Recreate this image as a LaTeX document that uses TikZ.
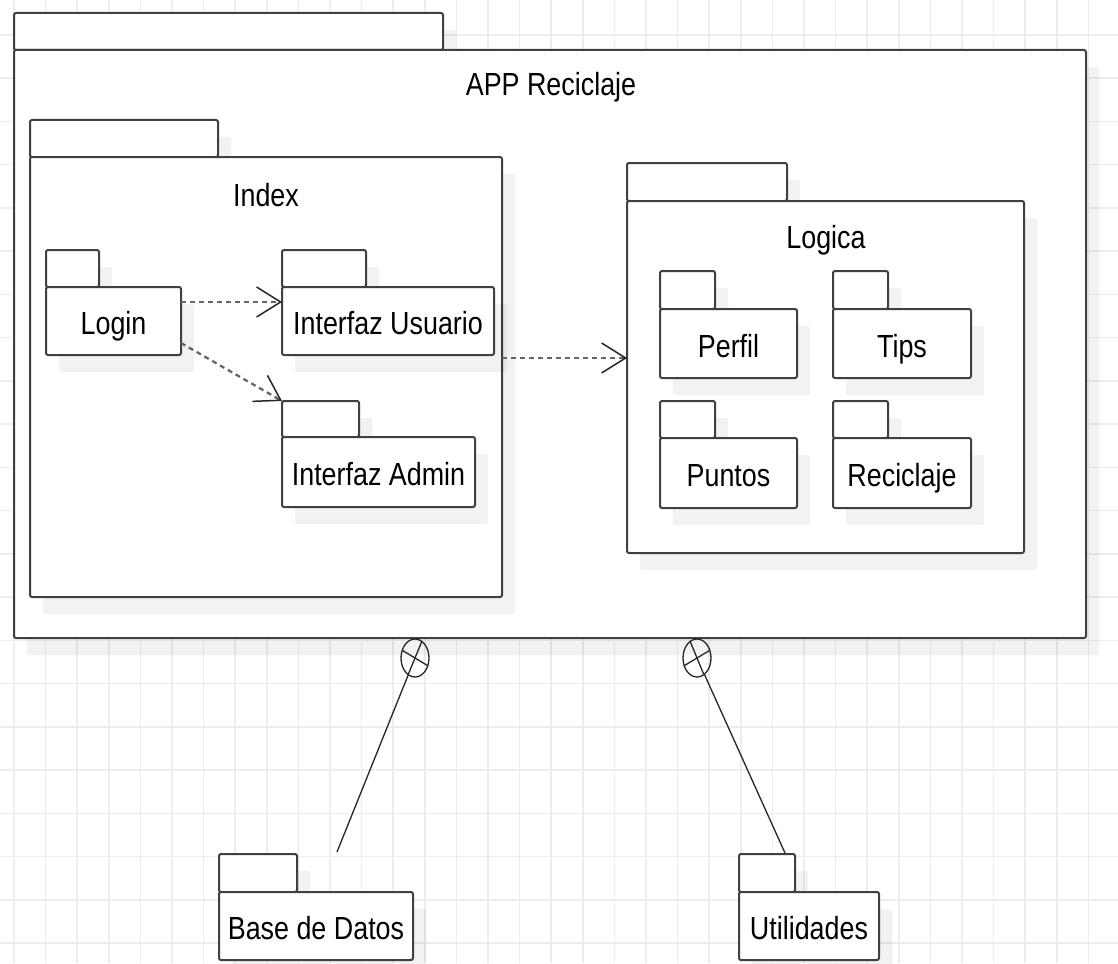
\documentclass[tikz,border=0pt]{standalone}
\usepackage{fontspec}
\usepackage{tikz}
\usetikzlibrary{arrows.meta,shapes.geometric,shadows,positioning}
\newfontfamily\pkgfont[FakeStretch=0.84]{Liberation Sans}
% one UML package: tab first, then body (so the shadows overlap right)
\newcommand{\pkg}[8]{%
  \node[pkgtab, minimum width=#6pt, minimum height=#7pt] (#1tab) at (#2,#3) {};
  \node[pkgbody, minimum width=#4pt, minimum height=#5pt] (#1) at (#2,#3) {#8};
}

\begin{document}
\begin{tikzpicture}[x=1pt,y=-1pt]
  \tikzset{
    gridline/.style={draw=black!7, line width=1.5pt},
    pkgshadow/.style={drop shadow={shadow xshift=13pt, shadow yshift=-17pt, fill=black, opacity=0.05}},
    pkgbox/.style={draw=black!75, line width=2pt, fill=white, rounded corners=2pt,
      inner sep=0pt, outer sep=0pt, pkgshadow},
    pkgtab/.style={pkgbox, anchor=south west},
    pkgbody/.style={pkgbox, anchor=north west, font=\pkgfont\fontsize{32}{36}\selectfont,
      text height=27pt, text depth=0pt},
    title/.style={font=\pkgfont\fontsize{32}{36}\selectfont, text height=27pt, text depth=0pt, inner sep=0pt},
    dep/.style={draw=black!60, line width=2.3pt, dash pattern=on 5pt off 4pt,
      -{Straight Barb[length=24pt, width=30pt, line width=1.5pt, color=black!85]}},
    joint/.style={ellipse, draw=black!85, line width=1.3pt, minimum width=28pt,
      minimum height=38pt, inner sep=0pt, outer sep=0pt},
    conn/.style={draw=black!85, line width=1.3pt}
  }
  \useasboundingbox (0,0) rectangle (1118,963);
  \fill[white] (0,0) rectangle (1118,963);

  % background grid
  \foreach \i in {0,...,35}
    \draw[gridline] ({14+31.6*\i},0) -- ({14+31.6*\i},963);
  \foreach \i in {0,...,21}
    \draw[gridline] (0,{35+43.24*\i}) -- (1118,{35+43.24*\i});

  % outer package
  \pkg{app}{14}{50}{1072}{588}{429}{37}{}
  \node[title] (apptitle) at (551,82) {APP Reciclaje};

  % Index
  \pkg{index}{30}{157}{472}{440}{188}{37}{}
  \node[title] (indextitle) at (266,193) {Index};
  \pkg{login}{46}{287}{135}{68}{53}{37}{Login}
  \pkg{iusr}{282}{287}{212}{68}{84}{37}{Interfaz Usuario}
  \pkg{iadm}{282}{437}{193}{70}{77}{36}{Interfaz Admin}

  % Logica
  \pkg{logica}{627}{201}{397}{352}{160}{38}{}
  \node[title] (logicatitle) at (826,235) {Logica};
  \pkg{perfil}{660}{309}{137}{69}{55}{38}{Perfil}
  \pkg{tips}{833}{309}{138}{69}{55}{38}{Tips}
  \pkg{puntos}{660}{438}{137}{70}{55}{37}{Puntos}
  \pkg{recic}{833}{438}{138}{70}{55}{37}{Reciclaje}

  % dependencies
  \draw[dep] ([yshift=19pt]login.east) -- ([yshift=19pt]login.east -| iusr.west);
  \draw[dep] ([yshift=-22pt]login.east) -- (iadmtab.north west);
  \draw[dep] ([yshift=19pt]index.east) -- ([yshift=19pt]index.east -| logica.west);

  % external packages
  \pkg{bd}{219}{892}{194}{68}{78}{38}{Base de Datos}
  \pkg{util}{739}{892}{140}{68}{56}{38}{Utilidades}

  % containment joints
  \node[joint] (j1) at (415,658) {};
  \node[joint] (j2) at (697,658) {};
  \draw[conn] ([shift={(7,-17)}]j1.center) -- ([shift={(-7,17)}]j1.center);
  \draw[conn] ([shift={(-12.5,-7.5)}]j1.center) -- ([shift={(12.5,7.5)}]j1.center);
  \draw[conn] ([shift={(-7,-17)}]j2.center) -- ([shift={(7,17)}]j2.center);
  \draw[conn] ([shift={(-12.5,7.5)}]j2.center) -- ([shift={(12.5,-7.5)}]j2.center);
  \coordinate (bdend) at (337,852);
  \coordinate (utilend) at (785,853);
  \draw[conn] (j1) -- (bdend);
  \draw[conn] (j2) -- (utilend);
\end{tikzpicture}
\end{document}
